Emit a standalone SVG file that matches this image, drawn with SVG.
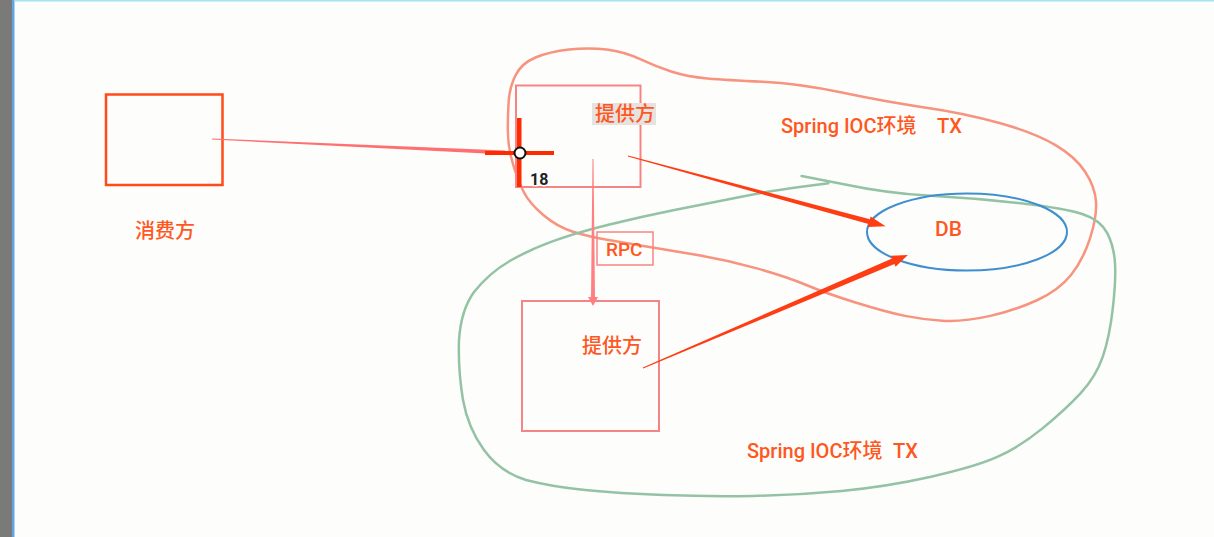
<svg xmlns="http://www.w3.org/2000/svg" width="1214" height="537" viewBox="0 0 1214 537">
<style>
.t{font-family:Roboto,"Liberation Sans","Noto Sans CJK SC",sans-serif;fill:#ff5722;font-weight:500}
.box{fill:none;stroke:#f58585;stroke-width:2}
.blob{fill:none;stroke-width:2.5;stroke-linecap:round;stroke-linejoin:round}
.arr{fill:#ff3d14}
</style>
<rect x="0" y="0" width="1214" height="537" fill="#fdfdfb"/>
<rect x="0" y="0" width="12" height="537" fill="#7a7a78"/>
<rect x="12" y="0" width="2.5" height="537" fill="#62a4e4"/>
<rect x="14" y="0" width="1200" height="1.5" fill="#a6e2f6"/>

<g id="regions">
<path id="region-top" class="blob" stroke="#f7937f" d="M507.8,130 Q507.8,113.3 508.8,100 Q509.8,86.7 515.7,75 Q521.6,63.3 535.5,57.5 Q549.3,51.7 569,49.5 Q588.8,47.3 606.6,49.5 Q624.4,51.7 640.2,59.2 Q656,66.7 671.9,71.7 Q687.7,76.7 707.4,78.4 Q727,80 762.7,81.7 Q798.4,83.3 841.9,92.5 Q885.4,101.7 924.7,107.4 Q964,113 999.5,123 Q1035,133 1055.1,144.9 Q1075.2,156.7 1085.1,171.7 Q1095,186.7 1096,201.7 Q1097,216.7 1090,238.4 Q1083,260 1071,275 Q1059,290 1037.5,300 Q1016,310 990.3,315.9 Q964.5,321.7 944.8,320.9 Q925,320 905,315.9 Q885,311.7 855.5,302.5 Q826,293.3 806.3,285 Q786.6,276.7 756.8,268.4 Q727,260 697.5,255 Q668,250 648,246.7 Q628,243.3 608.5,240 Q589,236.7 573,231.7 Q557,226.7 543.3,215 Q529.5,203.3 523.6,191.7 Q517.7,180 512.8,163.4 Q507.8,146.7 507.8,130 Z"/>
<path id="region-bottom" class="blob" stroke="#94c2a4" d="M801.6,176 L844,184.2 Q886.4,193.3 931.1,195.8 Q975.7,198.3 1020.4,203.3 Q1065,208.3 1082.9,214.2 Q1100.7,220 1107.4,233.4 Q1114,246.7 1115,263.4 Q1116,280 1112.8,308.4 Q1109.6,336.7 1102.8,356.7 Q1096,376.7 1080.5,393.4 Q1065,410 1042.5,428.4 Q1020,446.7 997.9,456.7 Q975.7,466.7 931.1,476.7 Q886.4,486.7 841.7,490.9 Q797,495 752.5,495.9 Q708,496.7 663.3,495 Q618.6,493.3 585.1,490 Q551.6,486.7 526,480 Q500,472 484,450 Q468,428 463,400 Q458,370 459,340 Q461,310 474,292 Q490,272 511.5,260 Q529.3,250 551.7,241.7 Q574,233.3 607.5,225 Q641,216.7 674.5,210 Q708,203.3 741.4,196.7 Q774.8,190 801.6,186.7 L828.4,183.3"/>
<text class="t" x="781" y="133" font-size="20">Spring IOC环境 <tspan x="937">TX</tspan></text>
<text class="t" x="747" y="458" font-size="20">Spring IOC环境 <tspan x="893">TX</tspan></text>
</g>

<g id="consumer">
<rect x="106" y="94.5" width="116.5" height="90.5" fill="none" stroke="#ff4a1a" stroke-width="2.5"/>
<text class="t" x="135" y="238" font-size="20">消费方</text>
</g>

<g id="provider-top">
<rect class="box" x="516" y="85.5" width="124.5" height="101.5"/>
<rect x="592" y="103" width="64" height="22" fill="#e6e2df"/>
<text class="t" x="595" y="121" font-size="20">提供方</text>
</g>

<g id="rpc">
<rect x="597" y="232" width="56" height="33" fill="none" stroke="#f58585" stroke-width="1.5"/>
<text class="t" x="606" y="256" font-size="19">RPC</text>
</g>

<g id="provider-bottom">
<rect class="box" x="522" y="301" width="137" height="130"/>
<text class="t" x="582" y="353" font-size="20">提供方</text>
</g>

<g id="db">
<ellipse cx="967" cy="232" rx="100" ry="38.5" fill="none" stroke="#3f8fd0" stroke-width="2"/>
<text class="t" x="935" y="236" font-size="21">DB</text>
</g>

<g id="connectors">
<polygon fill="#ff6f70" points="212,138.5 505,150.5 505,154.5 212,139.5"/>
<polygon fill="#ff8082" points="592.5,159 593.5,159 595,297 598,297 593,306 588,297 591,297"/>
<polygon class="arr" points="628.1,155.5 869.9,219.3 870.6,216.4 885.6,226.2 867.8,227 868.5,224.1 627.9,156.5"/>
<polygon class="arr" points="642.8,367.5 892,258.5 890.9,255.8 907.9,255 895.6,266.8 894.4,264.1 643.2,368.5"/>
</g>

<g id="cursor">
<rect x="485" y="151" width="29" height="4" fill="#ff2a00"/>
<rect x="525" y="151" width="29" height="4" fill="#ff2a00"/>
<rect x="517" y="118" width="4.5" height="29" fill="#ff2a00"/>
<rect x="517" y="158" width="4.5" height="29" fill="#ff2a00"/>
<circle cx="520" cy="153" r="5.5" fill="#ffffff" stroke="#111" stroke-width="2"/>
<text x="530" y="185" font-family="Roboto,'Liberation Sans',sans-serif" font-size="16" font-weight="bold" fill="#222" stroke="#fff" stroke-width="2.5" paint-order="stroke">18</text>
</g>
</svg>
